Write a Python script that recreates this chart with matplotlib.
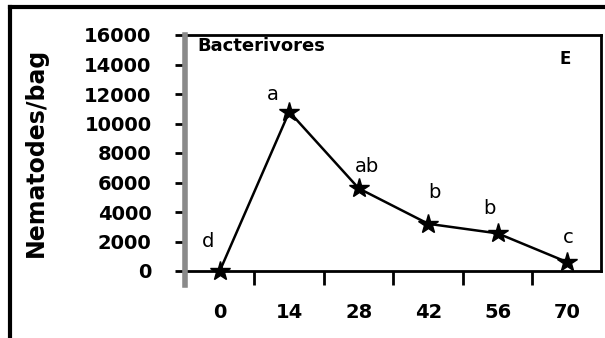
import matplotlib
matplotlib.use("Agg")
from matplotlib import pyplot as plt
from matplotlib.lines import Line2D
import numpy as np

# days after placement
days = [0, 14, 28, 42, 56, 70]
# nematodes per bag
nematodes = [0, 10800, 5600, 3200, 2550, 600]
# significance letters
letters = ['d', 'a', 'ab', 'b', 'b', 'c']
# letter offsets in data units (dx, dy)
letter_dx = [-3.5, -4.5, -0.8, 0.0, -3.0, -0.8]
letter_dy = [2000, 1200, 1500, 2100, 1700, 1700]

yticks = [0, 2000, 4000, 6000, 8000, 10000, 12000, 14000, 16000]

fig = plt.figure(figsize=(6.05, 3.38), dpi=100)
ax = fig.add_axes([185/605, 1-271/338, 416/605, 236/338])

ax.plot(days, nematodes, color='black', lw=1.8, marker='*', ms=15,
        mec='black', mfc='black', clip_on=False, zorder=3)

for x, y, t, dx, dy in zip(days, nematodes, letters, letter_dx, letter_dy):
    ax.text(x + dx, y + dy, t, fontsize=14, ha='left', va='center',
            family='DejaVu Sans')

ax.set_xlim(-7, 76.8)
ax.set_ylim(0, 16000)

# tick marks fall between the labelled days
ax.set_xticks([7, 21, 35, 49, 63])
ax.set_xticklabels([])
ax.set_xticks(days, minor=True)
ax.set_xticklabels([str(d) for d in days], minor=True)
ax.tick_params(axis='x', which='major', direction='out', length=10, width=2)
ax.tick_params(axis='x', which='minor', length=0, pad=23, labelsize=14)

ax.set_yticks(yticks)
ax.set_yticklabels([str(v) for v in yticks])
ax.tick_params(axis='y', direction='out', length=7, width=2, pad=17, labelsize=14)

for lab in ax.get_xticklabels(minor=True) + ax.get_yticklabels():
    lab.set_fontweight('bold')

for s in ['top', 'right', 'bottom']:
    ax.spines[s].set_linewidth(2)
ax.spines['left'].set_visible(False)
ax.add_line(Line2D([0, 0], [-0.06, 1], transform=ax.transAxes, color='#8a8a8a',
                   lw=4, clip_on=False, zorder=4))

ax.text(0.03, 0.955, 'Bacterivores', transform=ax.transAxes, fontsize=13,
        fontweight='bold', ha='left', va='center')
ax.text(0.915, 0.9, 'E', transform=ax.transAxes, fontsize=12,
        fontweight='bold', ha='center', va='center')

fig.text(36/605, 1-152/338, 'Nematodes/bag', rotation=90, fontsize=17,
         fontweight='bold', ha='center', va='center')

# outer frame
fig.add_artist(Line2D([10/605, 1], [1-7/338, 1-7/338], color='black', lw=3))
fig.add_artist(Line2D([10/605, 10/605], [0, 1-7/338], color='black', lw=3))

fig.savefig('out.png', dpi=100)
